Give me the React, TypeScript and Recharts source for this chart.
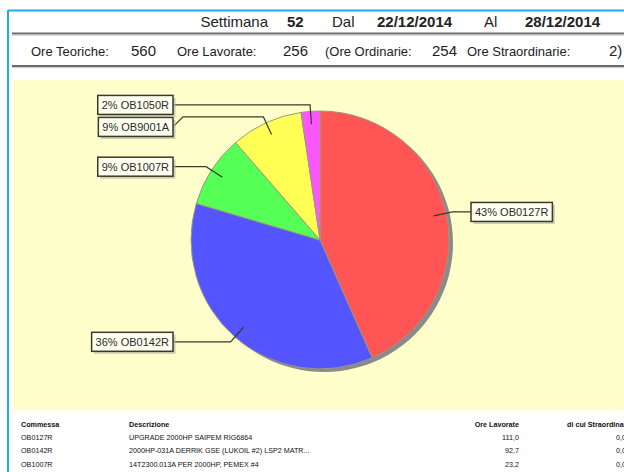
import React from 'react';
import { PieChart, Pie, Cell } from 'recharts';

// ---- data ----
const codes = ['OB0127R', 'OB0142R', 'OB1007R', 'OB9001A', 'OB1050R'];
const hours = [111.0, 92.7, 23.2, 23.1, 6.0];
const overtime = [0.0, 0.0, 0.0, 0.0, 2.0];
const descriptions = [
  'UPGRADE 2000HP SAIPEM RIG6864',
  '2000HP-031A DERRIK GSE (LUKOIL #2) LSP2 MATR...',
  '14T2300.013A PER 2000HP, PEMEX #4',
  'ATTIVITA\' GENERALI',
  'REVAMPING IMPIANTO',
];
const sliceColors = ['#FF5555', '#5555FF', '#55FF55', '#FFFF55', '#FF55FF'];

const week = 52;
const dateFrom = '22/12/2014';
const dateTo = '28/12/2014';
const oreTeoriche = 560;
const oreLavorate = 256;
const oreOrdinarie = 254;
const oreStraordinarie = 2;

const tableHeaders = ['Commessa', 'Descrizione', 'Ore Lavorate', 'di cui Straordinarie'];

// ---- layout constants ----
const W = 624;
const H = 472;
const CX = 320;
const CY = 240;
const R = 129;
const FONT = "Arial, 'Liberation Sans', sans-serif";

const pieData = codes.map((c, i) => ({ name: c, value: hours[i] }));
const total = hours.reduce((a, b) => a + b, 0);
const shadowData = [{ name: 'shadow', value: total }];

let ctx: CanvasRenderingContext2D | null = null;
function measure(text: string, size: number) {
  if (!ctx) {
    const c = document.createElement('canvas');
    ctx = c.getContext('2d');
  }
  if (!ctx) return text.length * size * 0.6;
  ctx.font = `${size}px Arial, 'Liberation Sans', sans-serif`;
  return ctx.measureText(text).width;
}

type LabelLayout = {
  ax: number; ay: number; ex: number; ey: number; ly: number; right: boolean;
};

function computeLayout(): LabelLayout[] {
  let cum = 0;
  const out: LabelLayout[] = hours.map((v) => {
    const theta = ((cum + v / 2) / total) * 2 * Math.PI;
    cum += v;
    const s = Math.sin(theta);
    const c = Math.cos(theta);
    return {
      ax: CX + 0.9 * R * s,
      ay: CY - 0.9 * R * c,
      ex: CX + 1.05 * R * s,
      ey: CY - 1.05 * R * c,
      ly: CY - 1.05 * R * c,
      right: s >= 0,
    };
  });
  const gap = 22;
  [true, false].forEach((side) => {
    const idx = out.map((_, i) => i).filter((i) => out[i].right === side);
    idx.sort((a, b) => out[a].ey - out[b].ey);
    for (let k = 1; k < idx.length; k++) {
      const prev = out[idx[k - 1]];
      const cur = out[idx[k]];
      if (cur.ly < prev.ly + gap) cur.ly = prev.ly + gap;
    }
  });
  return out;
}

const layout = computeLayout();

const renderLabel = (props: any) => {
  const { index, percent, name } = props;
  const L = layout[index];
  if (!L) return null;
  const text = `${Math.round(percent * 100)}% ${name}`;
  const tw = measure(text, 11);
  const bw = tw + 8;
  const bh = 19;
  const edge = L.right ? CX + R + 22 : CX - R - 18;
  const bx = L.right ? edge : edge - bw;
  const by = L.ly - bh / 2;
  const stub = L.right ? edge - 10 : edge + 10;
  const d = `M${L.ax},${L.ay} L${L.ex},${L.ey} L${stub},${L.ey} L${edge},${L.ly}`;
  return (
    <g key={`lbl-${index}`}>
      <path d={d} fill="none" stroke="#3a3a2a" strokeWidth={1.2} />
      <rect x={bx + 2.5} y={by + 2.5} width={bw} height={bh} fill="#b8b8a0" opacity={0.7} />
      <rect x={bx} y={by} width={bw} height={bh} fill="#FFFFF0" stroke="#3a3a2a" strokeWidth={1.5} />
      <text x={bx + 4} y={L.ly + 4} fontSize={11} fontFamily={FONT} fill="#2a2a2a">
        {text}
      </text>
    </g>
  );
};

const fmt = (v: number) => v.toFixed(1).replace('.', ',');

function Background() {
  const t = { fontFamily: FONT, fill: '#222' } as const;
  return (
    <svg width={W} height={H} style={{ position: 'absolute', left: 0, top: 0 }}>
      <rect x={0} y={0} width={W} height={H} fill="#ffffff" />
      <line x1={8} y1={10.5} x2={W} y2={10.5} stroke="#22AAEE" strokeWidth={2} />
      <line x1={8} y1={10} x2={8} y2={H} stroke="#22AAEE" strokeWidth={2} />
      <line x1={12} y1={33.5} x2={W} y2={33.5} stroke="#6a6a6a" strokeWidth={2} />
      <line x1={12} y1={35.2} x2={W} y2={35.2} stroke="#c8c8c8" strokeWidth={1} />
      <line x1={12} y1={66} x2={W} y2={66} stroke="#6a6a6a" strokeWidth={2} />
      <line x1={12} y1={67.7} x2={W} y2={67.7} stroke="#c8c8c8" strokeWidth={1} />
      <rect x={13} y={80} width={W - 13} height={330} fill="#FFFFCC" />

      <g fontSize={15} {...t}>
        <text x={268} y={27} textAnchor="end">Settimana</text>
        <text x={287} y={27} fontWeight="bold">{week}</text>
        <text x={332} y={27}>Dal</text>
        <text x={377} y={27} fontWeight="bold">{dateFrom}</text>
        <text x={484} y={27}>Al</text>
        <text x={525} y={27} fontWeight="bold">{dateTo}</text>
      </g>
      <g {...t}>
        <text x={31} y={56} fontSize={13}>Ore Teoriche:</text>
        <text x={131} y={56} fontSize={15}>{oreTeoriche}</text>
        <text x={177} y={56} fontSize={13}>Ore Lavorate:</text>
        <text x={283} y={56} fontSize={15}>{oreLavorate}</text>
        <text x={325} y={56} fontSize={13}>(Ore Ordinarie:</text>
        <text x={432} y={56} fontSize={15}>{oreOrdinarie}</text>
        <text x={467} y={56} fontSize={13}>Ore Straordinarie:</text>
        <text x={609} y={56} fontSize={15}>{oreStraordinarie})</text>
      </g>

      <g fontSize={7.2} fontFamily={FONT} fill="#111">
        <text x={21} y={427} fontWeight="bold">{tableHeaders[0]}</text>
        <text x={129} y={427} fontWeight="bold">{tableHeaders[1]}</text>
        <text x={519} y={427} fontWeight="bold" textAnchor="end">{tableHeaders[2]}</text>
        <text x={567} y={427} fontWeight="bold">{tableHeaders[3]}</text>
        {codes.map((c, i) => {
          const y = 440 + i * 13.3;
          return (
            <g key={c}>
              <text x={21} y={y}>{c}</text>
              <text x={129} y={y}>{descriptions[i]}</text>
              <text x={519} y={y} textAnchor="end">{fmt(hours[i])}</text>
              <text x={626} y={y} textAnchor="end">{fmt(overtime[i])}</text>
            </g>
          );
        })}
      </g>
    </svg>
  );
}

export default function App() {
  return (
    <div style={{ position: 'absolute', left: 0, top: 0, width: W, height: H, overflow: 'hidden', background: '#fff' }}>
      <Background />
      <div style={{ position: 'absolute', left: 0, top: 0 }}>
        <PieChart width={W} height={H} margin={{ top: 0, right: 0, bottom: 0, left: 0 }}>
          <Pie
            data={shadowData}
            dataKey="value"
            cx={CX + 4}
            cy={CY + 3}
            outerRadius={R}
            startAngle={90}
            endAngle={-270}
            fill="#8a8a8a"
            stroke="none"
            isAnimationActive={false}
          />
          <Pie
            data={pieData}
            dataKey="value"
            nameKey="name"
            cx={CX}
            cy={CY}
            outerRadius={R}
            startAngle={90}
            endAngle={-270}
            stroke="#9a9a7a"
            strokeWidth={1}
            labelLine={false}
            label={renderLabel}
            isAnimationActive={false}
          >
            {pieData.map((d, i) => (
              <Cell key={d.name} fill={sliceColors[i]} />
            ))}
          </Pie>
        </PieChart>
      </div>
    </div>
  );
}
